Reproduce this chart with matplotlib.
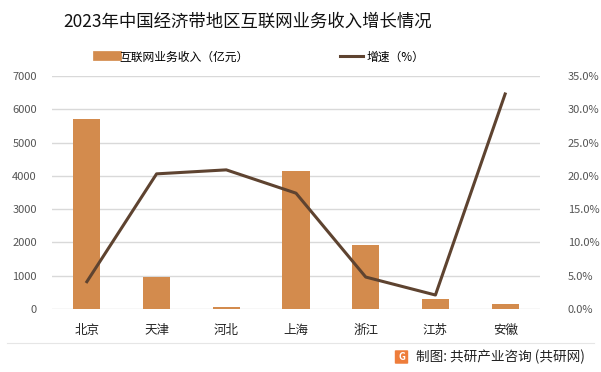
import matplotlib.pyplot as plt
from matplotlib.patches import FancyBboxPatch
from matplotlib.lines import Line2D

plt.rcParams['font.family'] = ['Noto Sans CJK SC', 'DejaVu Sans']

regions = ['北京', '天津', '河北', '上海', '浙江', '江苏', '安徽']
revenue = [5700, 960, 60, 4150, 1920, 300, 150]
growth = [4.1, 20.3, 20.9, 17.4, 4.8, 2.1, 32.3]

bar_color = '#D38B4D'
line_color = '#5E4330'

fig = plt.figure(figsize=(6.01, 3.72), dpi=100)
ax = fig.add_axes([52 / 601, 1 - 309 / 372, 488 / 601, 233 / 372])
ax2 = ax.twinx()

x = range(len(regions))
ax.bar(x, revenue, width=0.39, color=bar_color, zorder=2)
ax2.plot(x, growth, color=line_color, linewidth=2.2, zorder=3)

ax.set_ylim(0, 7000)
ax.set_yticks(range(0, 7001, 1000))
ax2.set_ylim(0, 35)
ax2.set_yticks(range(0, 36, 5))
ax2.set_yticklabels([f'{v:.1f}%' for v in range(0, 36, 5)])
ax.set_xlim(-0.5, len(regions) - 0.5)
ax.set_xticks(list(x))
ax.set_xticklabels(regions)

ax.grid(axis='y', color='#d9d9d9', linewidth=1, zorder=0)
ax.set_axisbelow(True)
for a in (ax, ax2):
    for s in a.spines.values():
        s.set_visible(False)
    a.tick_params(length=0, labelsize=8, labelcolor='#555555')
ax.tick_params(axis='x', labelsize=9, labelcolor='#222222', pad=11)
ax.tick_params(axis='y', pad=11)
ax2.tick_params(axis='y', pad=20)

fig.text(248 / 601, 1 - 22 / 372, '2023年中国经济带地区互联网业务收入增长情况', ha='center', va='center',
         fontsize=12.5, color='#111111')

handles = [
    Line2D([], [], color=bar_color, linewidth=7),
    Line2D([], [], color=line_color, linewidth=2.2),
]
fig.legend(handles[:1], ['互联网业务收入（亿元）'], loc='center left',
           bbox_to_anchor=(87 / 601, 1 - 57 / 372), frameon=False, fontsize=8.5,
           handlelength=1.6, handletextpad=0.25)
fig.legend(handles[1:], ['增速（%）'], loc='center left',
           bbox_to_anchor=(329 / 601, 1 - 57 / 372), frameon=False, fontsize=8.5,
           handlelength=2.0, handletextpad=0.25)

fig.add_artist(Line2D([0.012, 0.988], [1 - 343 / 372, 1 - 343 / 372], color='#e6e6e6', linewidth=0.8))
logo = FancyBboxPatch((396 / 601, 1 - 363 / 372), 11 / 601, 12 / 372,
                      boxstyle='round,pad=0.002', transform=fig.transFigure,
                      facecolor='#EE7D3B', edgecolor='none')
fig.add_artist(logo)
fig.text(401.5 / 601, 1 - 357 / 372, 'G', ha='center', va='center', fontsize=7,
         color='white', fontweight='bold')
fig.text(416 / 601, 1 - 357 / 372, '制图: 共研产业咨询 (共研网)', ha='left', va='center',
         fontsize=9.8, color='#222222')

fig.savefig('out.png', dpi=100)
